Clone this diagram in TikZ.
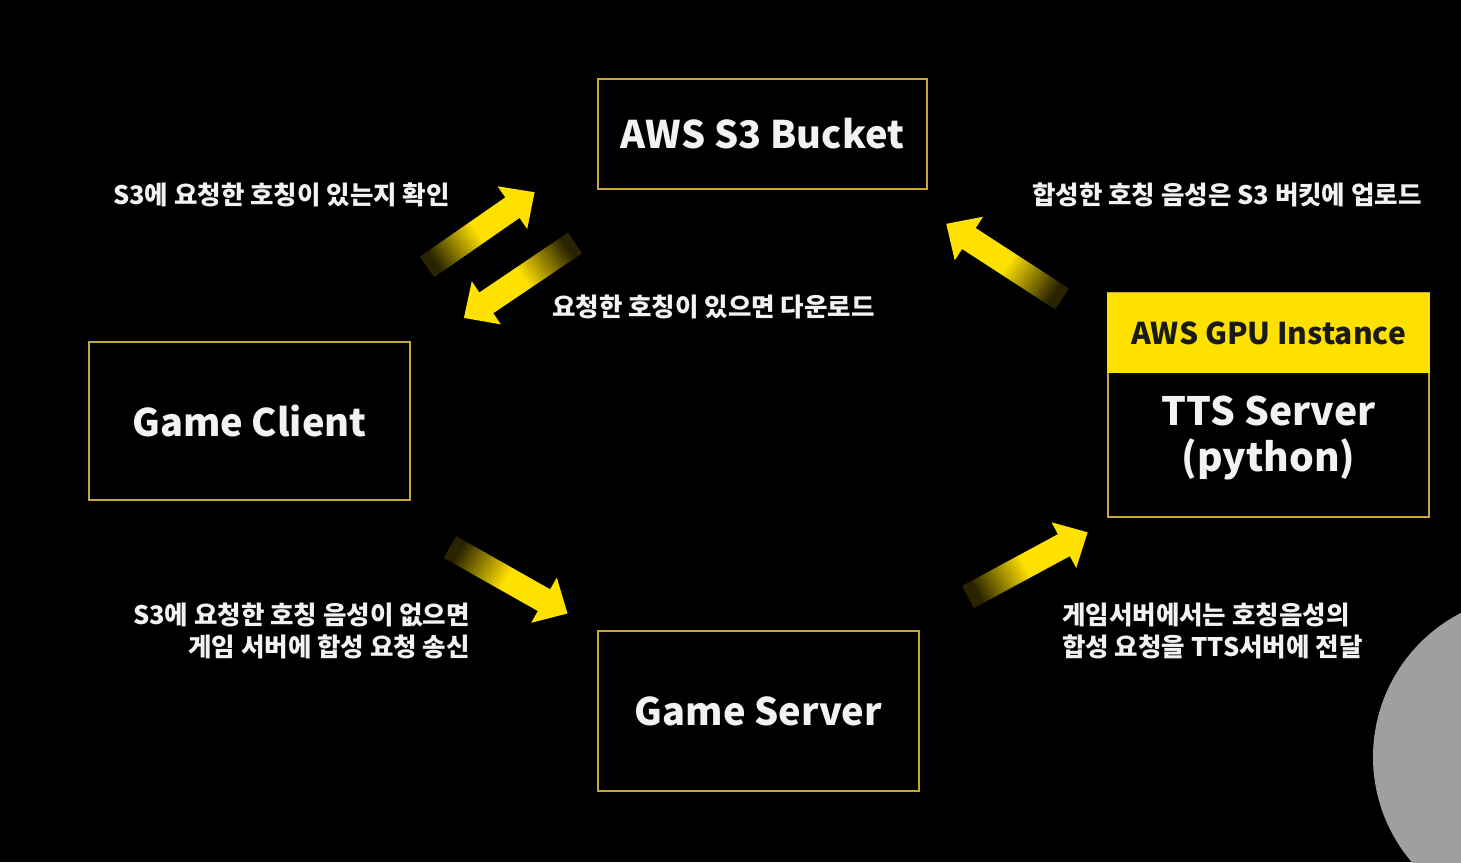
\documentclass[tikz,border=0pt]{standalone}
\usepackage{fontspec}
\setmainfont{Noto Sans CJK KR}
\definecolor{ayellow}{HTML}{FFE100}
\definecolor{agold}{HTML}{C9A63A}
\definecolor{atext}{HTML}{F2F2F2}
\definecolor{adark}{HTML}{1A1A1A}
\definecolor{atail}{HTML}{2A2300}
\pgfdeclareverticalshading{arrowshade}{100bp}{color(0bp)=(atail); color(25bp)=(atail); color(50bp)=(ayellow); color(75bp)=(ayellow); color(100bp)=(ayellow)}
\newcommand\fatarrow[3]{%
  \begin{scope}[shift={(#1)}, rotate=#2]
    \shade[shading=arrowshade, shading angle=#2-90]
      (0,-12.5) -- ({#3-27},-12.5) -- ({#3-27},-26) -- (#3,0) -- ({#3-27},26) -- ({#3-27},12.5) -- (0,12.5) -- cycle;
  \end{scope}}
\tikzset{
  box/.style={draw=agold, line width=2.6pt, fill=black, text=atext, font=\bfseries\fontsize{38}{44}\selectfont, align=center, inner sep=0pt},
  lbl/.style={text=atext, font=\bfseries\fontsize{25.5}{32}\selectfont, inner sep=0pt}
}
\begin{document}
\begin{tikzpicture}[x=1pt,y=1pt]
\fill[black] (0,0) rectangle (1461,862);
\useasboundingbox (0,0) rectangle (1461,862);
% webcam circle
\fill[gray!75] (1535,105) circle (162);
% boxes
\node[box, minimum width=329pt, minimum height=110pt] (s3) at (762.5,728) {AWS S3 Bucket};
\node[box, minimum width=321pt, minimum height=158pt] (client) at (249.5,441) {Game Client};
\node[box, minimum width=321pt, minimum height=160pt] (server) at (758.5,151) {Game Server};
\node[box, minimum width=321pt, minimum height=224pt] (tts) at (1268.5,457) {};
\node[fill=ayellow, minimum width=323.6pt, minimum height=80pt, inner sep=0pt, text=adark, font=\bfseries\fontsize{30}{34}\selectfont] (gpu) at (1268.5,529) {AWS GPU Instance};
\node[text=atext, font=\bfseries\fontsize{39}{46}\selectfont, align=center, inner sep=0pt] (ttstext) at (1268.5,424) {TTS Server\\(python)};
% labels
\node[lbl, anchor=east] (l1) at (450,667) {S3에 요청한 호칭이 있는지 확인};
\node[lbl, anchor=west] (l2) at (552,555) {요청한 호칭이 있으면 다운로드};
\node[lbl, anchor=west] (l3) at (1032,667) {합성한 호칭 음성은 S3 버킷에 업로드};
\node[lbl, anchor=east, align=right] (l4) at (470,231) {S3에 요청한 호칭 음성이 없으면\\게임 서버에 합성 요청 송신};
\node[lbl, anchor=west, align=left] (l5) at (1062,231) {게임서버에서는 호칭음성의\\합성 요청을 TTS서버에 전달};
% arrows
\coordinate (a1) at (427,595);
\coordinate (a2) at (575,619);
\coordinate (a3) at (1062,563);
\coordinate (a4) at (450,315);
\coordinate (a5) at (968,265);
\fatarrow{a1}{34.8}{131}
\fatarrow{a2}{214}{134}
\fatarrow{a3}{147}{138}
\fatarrow{a4}{-29.5}{135}
\fatarrow{a5}{28.4}{136}
\end{tikzpicture}
\end{document}
